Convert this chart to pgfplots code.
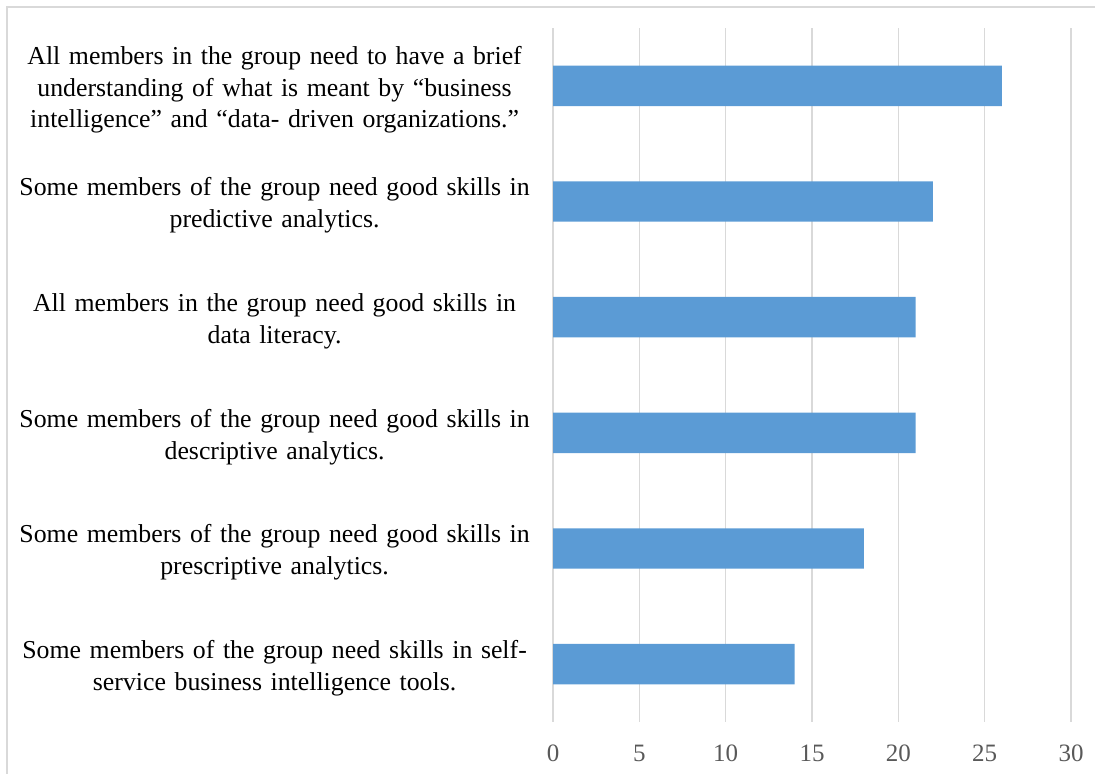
\documentclass[border=0pt]{standalone}
\usepackage{pgfplots}
\pgfplotsset{compat=1.18}
\usepackage{fontspec}
\setmainfont{Liberation Serif}
\definecolor{barblue}{HTML}{5B9BD5}
\definecolor{gridgray}{HTML}{D9D9D9}
\definecolor{ticktext}{HTML}{595959}
\begin{document}
\begin{tikzpicture}
\useasboundingbox (0,0) rectangle (547.5pt,387pt);
\draw[gridgray, line width=1pt] (3.5pt,-10pt) -- (3.5pt,383.5pt) -- (560pt,383.5pt);
\begin{axis}[
 at={(276.5pt,26pt)}, anchor=south west,
 scale only axis, width=259pt, height=347pt,
 xmin=0, xmax=30, ymin=-0.5, ymax=5.5,
 xtick={0,5,...,30},
 ytick={0,1,2,3,4,5},
 yticklabels={
  {Some members of the group need skills in self-\\service business intelligence tools.},
  {Some members of the group need good skills in\\prescriptive analytics.},
  {Some members of the group need good skills in\\descriptive analytics.},
  {All members in the group need good skills in\\data literacy.},
  {Some members of the group need good skills in\\predictive analytics.},
  {All members in the group need to have a brief\\understanding of what is meant by “business\\intelligence” and “data- driven organizations.”}
 },
 xbar, bar width=0.35,
 axis line style={draw=none},
 xmajorgrids, major grid style={gridgray, line width=0.6pt},
 major tick length=0pt,
 tick style={draw=none},
 /pgf/number format/assume math mode=true,
 xticklabel style={font=\fontsize{12.5pt}{14pt}\selectfont, text=ticktext, yshift=-8pt},
 yticklabel style={font=\fontsize{12.9pt}{15.9pt}\selectfont, align=center, text width=268pt, inner sep=0pt, xshift=-5pt, yshift=-2pt},
]
\addplot[fill=barblue, draw=none] coordinates {(14,0) (18,1) (21,2) (21,3) (22,4) (26,5)};
\end{axis}
\end{tikzpicture}
\end{document}
